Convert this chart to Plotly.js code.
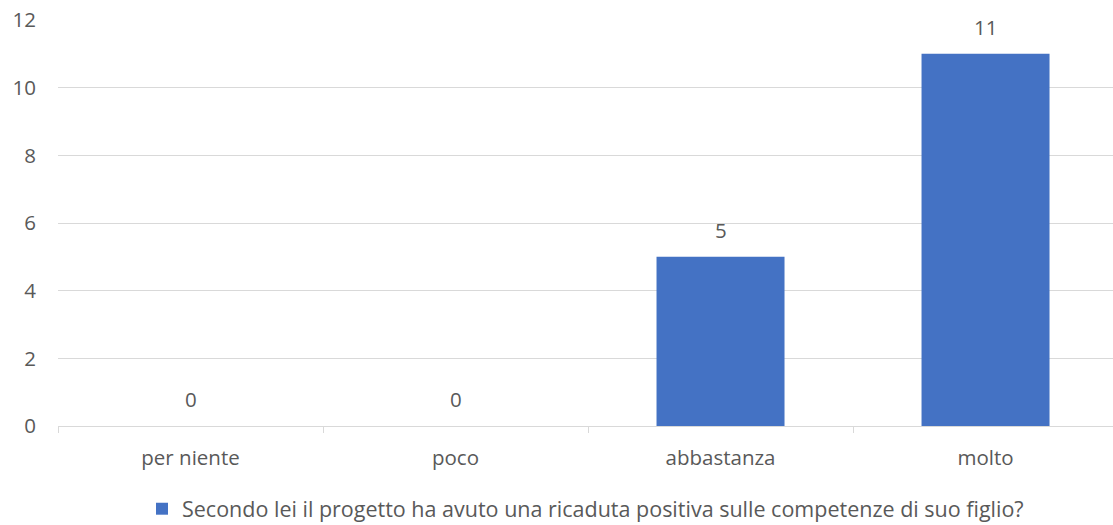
<!DOCTYPE html>
<html>
<head>
<meta charset="utf-8">
<script src="https://cdn.plot.ly/plotly-3.0.1.min.js"></script>
<style>html,body{margin:0;padding:0;background:#fff;}#chart{width:1113px;height:525px;}</style>
</head>
<body>
<div id="chart"></div>
<script>
const categories = ["per niente", "poco", "abbastanza", "molto"];
const values = [0, 0, 5, 11];
const seriesName = "Secondo lei il progetto ha avuto una ricaduta positiva sulle competenze di suo figlio?";
const yTicks = [0, 2, 4, 6, 8, 10, 12];

const FONT = "Open Sans, Liberation Sans, sans-serif";
const TXT = "#595959";
const GRID = "#d9d9d9";

const trace = {
  type: "bar",
  x: categories,
  y: values,
  name: seriesName,
  marker: {color: "#4472c4"},
  width: 0.483,
  showlegend: true,
  hoverinfo: "x+y"
};

const annotations = categories.map((c, i) => ({
  x: c, y: values[i], xref: "x", yref: "y",
  text: String(values[i]), showarrow: false,
  yshift: 27, font: {family: FONT, size: 20.5, color: TXT}
}));

const layout = {
  width: 1113, height: 525,
  margin: {l: 58, r: 0, t: 20, b: 99, pad: 0},
  paper_bgcolor: "#fff", plot_bgcolor: "#fff",
  font: {family: FONT, size: 20.5, color: TXT},
  bargap: 0.517,
  xaxis: {
    type: "category",
    range: [-0.5, 3.481],
    showgrid: false,
    showline: true, linecolor: GRID, linewidth: 1,
    ticks: "outside", tickson: "boundaries", ticklen: 6, tickcolor: GRID, tickwidth: 1,
    ticklabelstandoff: 13,
    tickfont: {family: FONT, size: 20.5, color: TXT},
    fixedrange: true
  },
  yaxis: {
    range: [0, 12],
    tickvals: yTicks,
    showgrid: true, gridcolor: GRID, gridwidth: 1,
    zeroline: false, showline: false,
    ticks: "outside", ticklen: 17, tickcolor: "rgba(0,0,0,0)",
    tickfont: {family: FONT, size: 20.5, color: TXT},
    fixedrange: true
  },
  showlegend: true,
  legend: {
    orientation: "h", xref: "paper", x: 0.5, xanchor: "center",
    yref: "container", y: 0.031, yanchor: "middle",
    bgcolor: "rgba(0,0,0,0)",
    font: {family: FONT, size: 21.5, color: TXT},
    itemwidth: 30
  },
  annotations: annotations
};

Plotly.newPlot("chart", [trace], layout, {displayModeBar: false, staticPlot: true});
</script>
</body>
</html>
